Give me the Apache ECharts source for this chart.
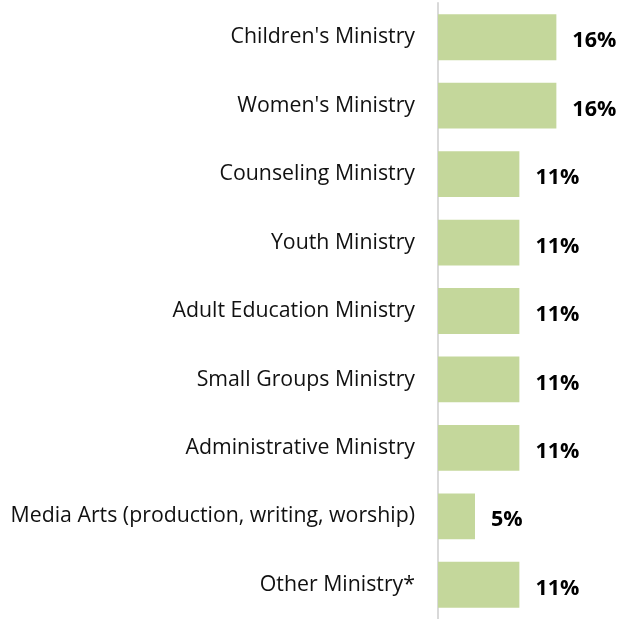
<!DOCTYPE html>
<html>
<head>
<meta charset="utf-8">
<script src="https://cdn.jsdelivr.net/npm/echarts@6/dist/echarts.min.js"></script>
<style>
  html, body { margin: 0; padding: 0; background: #ffffff; }
  #chart { width: 622px; height: 619px; }
</style>
</head>
<body>
<div id="chart"></div>
<script>
// Ministry areas, listed top to bottom
const ministries = [
  "Children's Ministry",
  "Women's Ministry",
  "Counseling Ministry",
  "Youth Ministry",
  "Adult Education Ministry",
  "Small Groups Ministry",
  "Administrative Ministry",
  "Media Arts (production, writing, worship)",
  "Other Ministry*"
];
// Share of respondents, in percent
const shares = [16, 16, 11, 11, 11, 11, 11, 5, 11];

const chart = echarts.init(document.getElementById('chart'), null, { renderer: 'canvas' });

chart.setOption({
  animation: false,
  textStyle: { fontFamily: 'Open Sans' },
  grid: { left: 438, top: 3, width: 182, bottom: 0, containLabel: false },
  xAxis: {
    type: 'value',
    min: 0,
    max: 24.6,
    show: false
  },
  yAxis: {
    type: 'category',
    data: ministries,
    inverse: true,
    axisLine: { show: true, lineStyle: { color: '#d9d9d9', width: 2 } },
    axisTick: { show: false },
    axisLabel: {
      color: '#111111',
      fontSize: 21.3,
      fontFamily: 'Open Sans',
      margin: 23,
      padding: [4, 0, 0, 0]
    }
  },
  series: [{
    type: 'bar',
    data: shares,
    barCategoryGap: '33%',
    itemStyle: { color: '#c4d79b' },
    label: {
      show: true,
      position: 'right',
      distance: 16,
      offset: [0, 4],
      formatter: p => p.value + '%',
      color: '#000000',
      fontSize: 21.5,
      fontWeight: 'bold',
      fontFamily: 'Open Sans'
    }
  }]
});
</script>
</body>
</html>
